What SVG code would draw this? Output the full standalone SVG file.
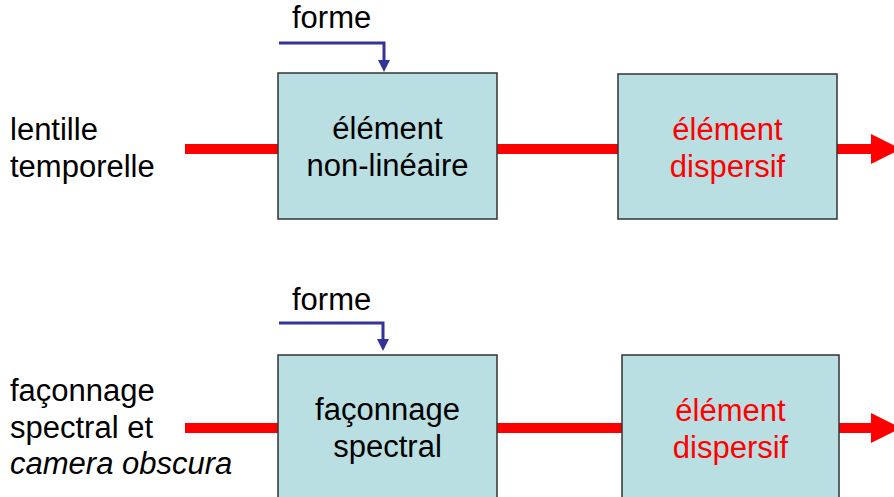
<svg xmlns="http://www.w3.org/2000/svg" width="894" height="497" viewBox="0 0 894 497">
<style>
text{font-family:"Liberation Sans",Arial,sans-serif;font-size:31px;fill:#000}
.c{text-anchor:middle}
.r{fill:#ff0000}
.box{fill:#badfe3;stroke:#333;stroke-width:1.5}
.red{stroke:#ff0000;stroke-width:10;fill:none}
.blue{stroke:#333399;stroke-width:3;fill:none}
</style>
<g id="connectors">
<line class="red" x1="185" y1="149" x2="278" y2="149"/>
<line class="red" x1="497" y1="149" x2="618" y2="149"/>
<line class="red" x1="837" y1="149" x2="872" y2="149"/>
<polygon points="871,134 901,149 871,164" fill="#ff0000"/>
<line class="red" x1="185" y1="428" x2="278" y2="428"/>
<line class="red" x1="497" y1="428" x2="622" y2="428"/>
<line class="red" x1="839" y1="428" x2="872" y2="428"/>
<polygon points="871,413 901,428 871,443" fill="#ff0000"/>
<polyline class="blue" points="279,43 384,43 384,61"/>
<polygon points="378,60 390,60 384,72" fill="#333399"/>
<polyline class="blue" points="279,323 383,323 383,340"/>
<polygon points="377,339 389,339 383,351" fill="#333399"/>
</g>
<g id="label-top"><text x="10" y="140">lentille</text><text x="10" y="177">temporelle</text></g>
<g id="label-bottom"><text x="10" y="401">façonnage</text><text x="10" y="438">spectral et</text><text x="10" y="474" font-style="italic">camera obscura</text></g>
<g id="forme-top"><text x="292" y="28">forme</text></g>
<g id="forme-bottom"><text x="292" y="310">forme</text></g>
<g id="nonlin"><rect class="box" x="278" y="73" width="219" height="146"/><text class="c" x="387.5" y="139">élément</text><text class="c" x="387.5" y="176">non-linéaire</text></g>
<g id="disp1"><rect class="box" x="618" y="74" width="219" height="145"/><text class="c r" x="727.5" y="140">élément</text><text class="c r" x="727.5" y="177">dispersif</text></g>
<g id="shaping"><rect class="box" x="278" y="355" width="219" height="150"/><text class="c" x="387.5" y="420">façonnage</text><text class="c" x="387.5" y="457">spectral</text></g>
<g id="disp2"><rect class="box" x="622" y="355" width="217" height="150"/><text class="c r" x="730.5" y="421">élément</text><text class="c r" x="730.5" y="458">dispersif</text></g>
</svg>
